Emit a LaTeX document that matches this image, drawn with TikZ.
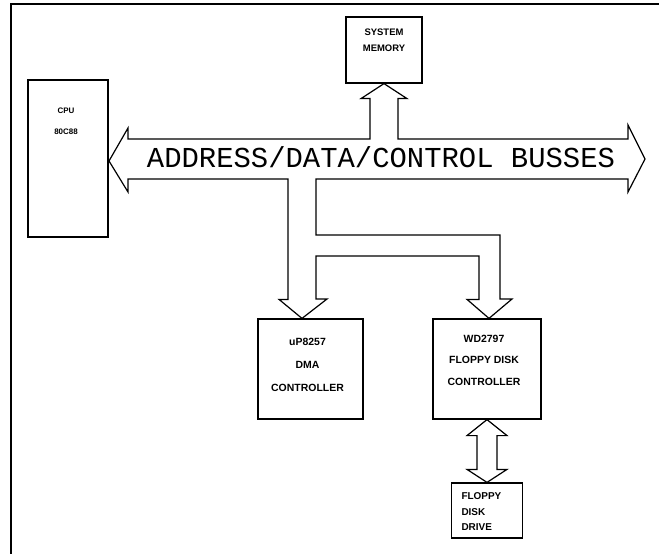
\documentclass[tikz,border=0pt]{standalone}
\usepackage{fontspec}
\setmonofont{Liberation Mono}
\newfontfamily\boxfont{Liberation Sans}
\newcommand{\boxtext}[2]{\boxfont\bfseries\fontsize{#1}{#2}\selectfont}
\usetikzlibrary{%
  calc,%
  positioning% wg. " of "
}

\begin{document}
\begin{tikzpicture}[x=1bp, y=-1bp, line width=1.2bp,
    blk/.style={draw, rectangle, inner sep=0pt},
    lbl/.style={inner sep=0pt, align=center}]
  \useasboundingbox (0,0) rectangle (659,554);
  %frame
  \draw (11,554) -- (11,4) -- (659,4);

  %blocks
  \node[blk, minimum width=80bp, minimum height=157bp] (cpu) at (68,158.5) {};
  \node[blk, minimum width=76bp, minimum height=66bp] (mem) at (384,50) {};
  \node[blk, minimum width=105bp, minimum height=100bp] (dma) at (310.5,369) {};
  \node[blk, minimum width=108bp, minimum height=100bp] (fdc) at (487,369) {};
  \node[blk, minimum width=71bp, minimum height=55bp] (drive) at (487,510.5) {};

  \node[lbl, font={\boxtext{8}{21}}, below=28bp of cpu.north, xshift=-2bp] (cpu-txt) {CPU\\80C88};
  \node[lbl, font={\boxtext{9.5}{16}}, below=12bp of mem.north] (mem-txt) {SYSTEM\\MEMORY};
  \node[lbl, font={\boxtext{10.5}{23}}, below=19bp of dma.north, xshift=-3bp] (dma-txt) {uP8257\\DMA\\CONTROLLER};
  \node[lbl, font={\boxtext{10.5}{21.5}}, below=16bp of fdc.north, xshift=-3bp] (fdc-txt) {WD2797\\FLOPPY DISK\\CONTROLLER};
  \node[lbl, align=left, font={\boxtext{10}{15.5}}, below right=10bp and 10bp of drive.north west] (drive-txt) {FLOPPY\\DISK\\DRIVE};

  %bus with branches
  \draw (109,161) -- (128,128) -- (128,139) -- (370,139)
    -- ($(mem.south)+(-14,15)$) -- ++(-9,0) -- (mem.south) -- ++(23,15) -- ++(-9,0)
    -- (398,139) -- (628,139) -- (628,125) -- (645,159) -- (628,192) -- (628,179)
    -- (316,179) -- (316,235) -- (500,235) -- (500,299) -- ++(12,0)
    -- (489,0 |- fdc.north) -- ++(-22,-19) -- ++(12,0) -- (479,256) -- (316,256)
    -- (316,299) -- ++(11,0) -- (302,0 |- dma.north) -- ++(-23,-19) -- ++(9,0)
    -- (288,179) -- (128,179) -- (128,192) -- cycle;
  \node[inner sep=0pt, anchor=base, font=\ttfamily\fontsize{29}{29}\selectfont] (bus-txt) at (381,168) {ADDRESS/DATA/CONTROL BUSSES};

  %drive link
  \draw (fdc.south) -- ++(20,16) -- ++(-10,0) -- ($(drive.north)+(10,-13)$) -- ++(10,0)
    -- (drive.north) -- ++(-20,-13) -- ++(10,0) -- ($(fdc.south)+(-10,16)$) -- ++(-10,0) -- cycle;
\end{tikzpicture}
\end{document}
